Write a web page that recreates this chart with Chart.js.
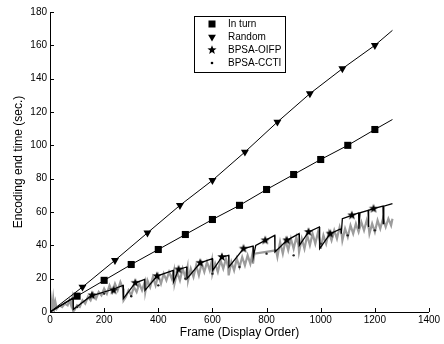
<!DOCTYPE html>
<html>
<head>
<meta charset="utf-8">
<script src="https://cdn.jsdelivr.net/npm/chart.js@4.4.1/dist/chart.umd.min.js"></script>
<style>
  html, body { margin: 0; padding: 0; background: #fff; }
  #chart { display: block; }
</style>
</head>
<body>
<canvas id="chart" width="444" height="344"></canvas>
<script>
// series (frame, encoding end time in sec.)
const inturnX = [0, 100, 200, 300, 400, 500, 600, 700, 800, 900, 1000, 1100, 1200, 1265];
const inturnY = [0, 9.5, 19, 28.5, 37.5, 46.5, 55.5, 64, 73.5, 82.5, 91.5, 100, 109.5, 115.5];

const randomX = [0, 120, 240, 360, 480, 600, 720, 840, 960, 1080, 1200, 1265];
const randomY = [0, 15, 31, 47.5, 64, 79, 96, 114, 131, 146, 160, 169];

// BPSA-OIFP: black saw-tooth line
const oifpX = [0, 40, 85, 86, 150, 230, 270, 271, 315, 350, 351, 395, 455, 456, 475, 505, 506, 555, 600, 601,
  635, 660, 661, 715, 750, 751, 760, 830, 831, 875, 920, 921, 955, 995, 996, 1035, 1075, 1076, 1080, 1115,
  1140, 1141, 1145, 1175, 1176, 1178, 1195, 1230, 1231, 1233, 1265];
const oifpY = [0, 4, 8.5, 1.5, 9.5, 13.5, 16, 8, 17.5, 19.5, 13, 21.5, 25, 18, 25.5, 27, 20, 29.5, 32, 25,
  33, 34, 27, 38, 39.5, 33, 40, 46, 36, 43, 47, 40, 48, 51, 38, 47, 50, 47, 56, 58,
  59.5, 50, 59.5, 61, 51, 61, 62, 63.5, 53, 63.5, 65];
const oifpMarkX = [155, 235, 315, 395, 475, 555, 635, 715, 795, 875, 955, 1035, 1115, 1195];
const oifpMarkY = [10, 13, 17.5, 21.5, 25.5, 29.5, 33, 38, 43, 43, 48, 47, 58, 62];

// BPSA-CCTI: grey dense zig-zag band
const cctiX = [0, 4, 8, 12, 16, 20, 25, 35, 45, 55, 65, 72, 78, 82, 85, 86,
  90, 100, 110, 120, 130, 140, 150, 160, 170, 180, 190, 200, 210, 220, 230, 240, 250, 260, 270, 272,
  280, 290, 300, 310, 320, 330, 340, 350, 352,
  360, 370, 380, 390, 400, 410, 420, 430, 440, 450, 458, 460,
  470, 480, 490, 500, 508, 510,
  520, 530, 540, 550, 560, 570, 580, 590, 598, 600,
  610, 620, 630, 640, 650, 658, 660,
  670, 680, 690, 700, 710, 720, 730, 740, 748, 750,
  755, 835, 840,
  850, 860, 870, 880, 890, 900, 910, 918, 920,
  930, 940, 950, 960, 970, 980, 990, 998, 1000,
  1010, 1020, 1030, 1040, 1050, 1060, 1070, 1078, 1080,
  1090, 1100, 1110, 1120, 1130, 1140, 1150, 1160, 1170, 1178, 1180,
  1190, 1200, 1210, 1220, 1230, 1240, 1250, 1260, 1265];
const cctiY = [0, 7, 1, 8, 2, 6, 2, 4, 3, 5, 4, 7, 4, 8, 3, 0.5,
  1, 4, 3, 7, 5, 9, 7, 11, 8, 12, 10, 14, 11, 16, 12, 17, 13, 18, 14, 7,
  9, 13, 10, 15, 12, 17, 13, 18, 12,
  19, 15, 21, 16, 22, 17, 23, 19, 24, 20, 25, 17,
  24, 19, 26, 21, 27, 19,
  26, 21, 28, 22, 29, 24, 30, 25, 31, 23,
  29, 24, 31, 26, 32, 27, 22,
  30, 25, 32, 27, 33, 28, 34, 29, 35, 29,
  35, 37, 33,
  42, 35, 43, 37, 44, 38, 45, 40, 36,
  44, 38, 46, 40, 47, 41, 48, 42, 38,
  46, 41, 48, 43, 49, 44, 51, 46, 43,
  50, 45, 52, 47, 53, 48, 54, 49, 55, 50, 47,
  53, 48, 55, 50, 56, 51, 56, 52, 56];
const cctiMarkX = [100, 200, 300, 400, 500, 600, 700, 800, 900, 1000, 1100, 1200];
const cctiMarkY = [3, 11, 9.5, 16, 20, 23, 27, 35, 34, 41, 46, 49];

const seriesLabels = ['In turn', 'Random', 'BPSA-OIFP', 'BPSA-CCTI'];
const xTicks = [0, 200, 400, 600, 800, 1000, 1200, 1400];
const yTicks = [0, 20, 40, 60, 80, 100, 120, 140, 160, 180];

const FONT = 'Arial, "Liberation Sans", Helvetica, sans-serif';

function toPoints(xs, ys) {
  return xs.map((x, i) => ({ x: x, y: ys[i] }));
}

// markers only on the inner points of a polyline
function innerRadius(n, r) {
  return Array.from({ length: n }, (_, i) => (i === 0 || i === n - 1) ? 0 : r);
}

function makeStar(r) {
  const c = document.createElement('canvas');
  const s = Math.ceil(r * 2) + 2;
  c.width = s;
  c.height = s;
  const g = c.getContext('2d');
  g.fillStyle = '#000';
  g.beginPath();
  for (let i = 0; i < 10; i++) {
    const rr = i % 2 ? r * 0.42 : r;
    const a = -Math.PI / 2 + i * Math.PI / 5;
    g.lineTo(s / 2 + rr * Math.cos(a), s / 2 + rr * Math.sin(a));
  }
  g.closePath();
  g.fill();
  return c;
}
const starImg = makeStar(4.8);

// axes with inward ticks, titles and the boxed legend, matlab style
const matlabFrame = {
  id: 'matlabFrame',
  afterDraw(chart) {
    const ctx = chart.ctx;
    const area = chart.chartArea;
    const xs = chart.scales.x;
    const ys = chart.scales.y;
    ctx.save();
    ctx.strokeStyle = '#000';
    ctx.lineWidth = 1;
    ctx.beginPath();
    ctx.moveTo(Math.round(area.left) + 0.5, area.top);
    ctx.lineTo(Math.round(area.left) + 0.5, Math.round(area.bottom) + 0.5);
    ctx.lineTo(area.right, Math.round(area.bottom) + 0.5);
    yTicks.forEach(v => {
      const y = Math.round(ys.getPixelForValue(v)) + 0.5;
      ctx.moveTo(area.left, y);
      ctx.lineTo(area.left + 4, y);
    });
    xTicks.forEach(v => {
      const x = Math.round(xs.getPixelForValue(v)) + 0.5;
      ctx.moveTo(x, area.bottom);
      ctx.lineTo(x, area.bottom - 4);
    });
    ctx.stroke();

    // axis titles
    ctx.fillStyle = '#000';
    ctx.font = '12px ' + FONT;
    ctx.textAlign = 'center';
    ctx.textBaseline = 'middle';
    ctx.fillText('Frame (Display Order)', (area.left + area.right) / 2, 333);
    ctx.save();
    ctx.translate(19, (area.top + area.bottom) / 2);
    ctx.rotate(-Math.PI / 2);
    ctx.fillText('Encoding end time (sec.)', 0, 0);
    ctx.restore();

    // legend box
    const lx = 194.5, ly = 16.5, lw = 91, lh = 56;
    ctx.fillStyle = '#fff';
    ctx.fillRect(lx, ly, lw, lh);
    ctx.strokeRect(lx, ly, lw, lh);
    const rows = [24, 37, 50, 63];
    const mx = 212;
    ctx.fillStyle = '#000';
    ctx.fillRect(mx - 3.5, rows[0] - 3.5, 7, 7);
    ctx.beginPath();
    ctx.moveTo(mx - 3.9, rows[1] - 2.3);
    ctx.lineTo(mx + 3.9, rows[1] - 2.3);
    ctx.lineTo(mx, rows[1] + 4.5);
    ctx.closePath();
    ctx.fill();
    ctx.drawImage(starImg, mx - starImg.width / 2, rows[2] - starImg.height / 2);
    ctx.beginPath();
    ctx.arc(mx, rows[3], 1.3, 0, Math.PI * 2);
    ctx.fill();
    ctx.font = '10px ' + FONT;
    ctx.textAlign = 'left';
    seriesLabels.forEach((t, i) => ctx.fillText(t, 228, rows[i] + 0.5));
    ctx.restore();
  }
};

new Chart(document.getElementById('chart'), {
  type: 'line',
  data: {
    datasets: [
      {
        label: seriesLabels[0],
        data: toPoints(inturnX, inturnY),
        borderColor: '#000',
        borderWidth: 1,
        pointStyle: 'rect',
        pointRadius: innerRadius(inturnX.length, 5),
        pointBackgroundColor: '#000',
        pointBorderWidth: 0,
        order: 1
      },
      {
        label: seriesLabels[1],
        data: toPoints(randomX, randomY),
        borderColor: '#000',
        borderWidth: 1,
        pointStyle: 'triangle',
        rotation: 180,
        pointRadius: innerRadius(randomX.length, 4.6),
        pointBackgroundColor: '#000',
        pointBorderWidth: 0,
        order: 1
      },
      {
        label: seriesLabels[2],
        data: toPoints(oifpX, oifpY),
        borderColor: '#000',
        borderWidth: 1.3,
        pointRadius: 0,
        order: 2
      },
      {
        label: seriesLabels[2] + ' markers',
        data: toPoints(oifpMarkX, oifpMarkY),
        showLine: false,
        pointStyle: starImg,
        pointRadius: 5,
        order: 0
      },
      {
        label: seriesLabels[3],
        data: toPoints(cctiX, cctiY),
        borderColor: '#9c9c9c',
        borderWidth: 2.2,
        pointRadius: 0,
        order: 3
      },
      {
        label: seriesLabels[3] + ' markers',
        data: toPoints(cctiMarkX, cctiMarkY),
        showLine: false,
        pointStyle: 'circle',
        pointRadius: 1.2,
        pointBackgroundColor: '#222',
        pointBorderWidth: 0,
        order: 0
      }
    ]
  },
  options: {
    responsive: false,
    animation: false,
    devicePixelRatio: 1,
    layout: { padding: { left: 0, right: 15, top: 12, bottom: 0 } },
    plugins: { legend: { display: false }, tooltip: { enabled: false } },
    elements: { line: { tension: 0 } },
    scales: {
      x: {
        type: 'linear',
        min: 0,
        max: 1400,
        afterBuildTicks: s => { s.ticks = xTicks.map(v => ({ value: v })); },
        ticks: { font: { family: FONT, size: 10 }, color: '#000', padding: 2, maxRotation: 0, callback: v => String(v) },
        grid: { display: false, drawTicks: false },
        border: { display: false },
        afterFit: s => { s.height = 32; }
      },
      y: {
        type: 'linear',
        min: 0,
        max: 180,
        afterBuildTicks: s => { s.ticks = yTicks.map(v => ({ value: v })); },
        ticks: { font: { family: FONT, size: 10 }, color: '#000', padding: 3, callback: v => String(v) },
        grid: { display: false, drawTicks: false },
        border: { display: false },
        afterFit: s => { s.width = 50; }
      }
    }
  },
  plugins: [matlabFrame]
});
</script>
</body>
</html>
